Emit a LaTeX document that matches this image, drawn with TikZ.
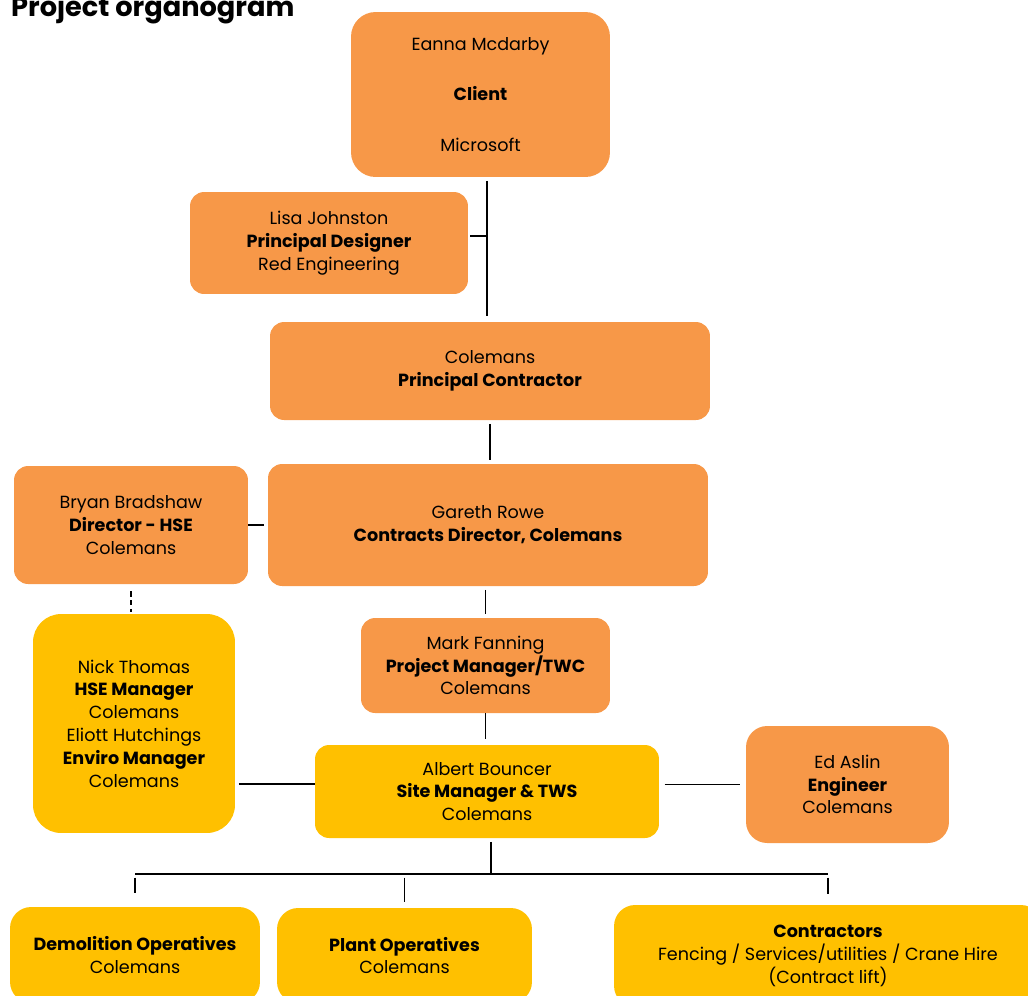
\documentclass[tikz,border=0pt]{standalone}
\usepackage{fontspec}
\setmainfont{Poppins}
\usetikzlibrary{positioning}
\definecolor{orangebox}{RGB}{247,152,72}
\definecolor{yellowbox}{RGB}{255,192,0}
\tikzset{
  role/.style={rectangle,rounded corners=#1,fill=orangebox,align=center,
               font=\fontsize{10}{13}\selectfont,inner sep=2pt},
  role/.default=8pt,
  site/.style={role=#1,fill=yellowbox},
  site/.default=8pt,
  link/.style={line width=0.9pt,black},
  bus/.style={line width=1.5pt,black},
}

\begin{document}
\begin{tikzpicture}[x=0.02cm,y=-0.02cm]
    \useasboundingbox (0,0) rectangle (1028,995);

    \node[anchor=base west,font=\fontsize{15.5}{18}\selectfont\bfseries] (title) at (5,16) {Project organogram};

    \node[role=14pt,minimum width=5.18cm,minimum height=3.3cm] (client) at (480.5,94.5)
      {Eanna Mcdarby\\[0.56cm]\textbf{Client}\\[0.56cm]Microsoft};
    \node[role,minimum width=5.56cm,minimum height=2.04cm] (lisa) at (329,243)
      {Lisa Johnston\\\textbf{Principal Designer}\\Red Engineering};
    \node[role,minimum width=8.8cm,minimum height=1.96cm] (pc) at (490,371)
      {Colemans\\\textbf{Principal Contractor}};
    \node[role,minimum width=4.68cm,minimum height=2.36cm] (bryan) at (131,525)
      {Bryan Bradshaw\\\textbf{Director - HSE}\\Colemans};
    \node[role,minimum width=8.8cm,minimum height=2.44cm] (gareth) at (488,525)
      {Gareth Rowe\\\textbf{Contracts Director, Colemans}};
    \node[site=16pt,minimum width=4.04cm,minimum height=4.38cm] (nick) at (134,723.5)
      {Nick Thomas\\\textbf{HSE Manager}\\Colemans\\Eliott Hutchings\\\textbf{Enviro Manager}\\Colemans};
    \node[role,minimum width=4.98cm,minimum height=1.9cm] (mark) at (485.5,665.5)
      {Mark Fanning\\\textbf{Project Manager/TWC}\\Colemans};
    \node[site,minimum width=6.88cm,minimum height=1.86cm] (albert) at (487,791.5)
      {Albert Bouncer\\\textbf{Site Manager \& TWS}\\Colemans};
    \node[role=12pt,minimum width=4.06cm,minimum height=2.34cm] (ed) at (847.5,784.5)
      {Ed Aslin\\\textbf{Engineer}\\Colemans};
    \node[site=12pt,minimum width=5.0cm,minimum height=1.92cm] (demo) at (135,955)
      {\textbf{Demolition Operatives}\\Colemans};
    \node[site=12pt,minimum width=5.1cm,minimum height=1.9cm] (plant) at (404.5,955.5)
      {\textbf{Plant Operatives}\\Colemans};
    \node[site=12pt,minimum width=8.56cm,minimum height=2.04cm] (contr) at (828,956)
      {\textbf{Contractors}\\Fencing / Services/utilities / Crane Hire\\(Contract lift)};

    % reporting lines
    \coordinate (spine) at (487,0);
    \coordinate (split) at (491,874);
    \draw[link,shorten <=2pt,shorten >=3pt] (client.south -| spine) -- (pc.north -| spine);
    \draw[link,shorten <=1pt] ([yshift=0.14cm]lisa.east) -- ([yshift=0.14cm]lisa.east -| spine);
    \draw[link,shorten <=2pt,shorten >=2pt] (pc.south) -- (pc.south |- gareth.north);
    \draw[link,shorten >=2pt] (bryan.east) -- (gareth.west);
    \draw[link,shorten <=2pt,shorten >=2pt] (mark.north |- gareth.south) -- (mark.north);
    \draw[link,dashed,dash pattern=on 3pt off 2pt,shorten <=4pt,shorten >=1pt] (bryan.south) -- (bryan.south |- nick.north);
    \draw[link,shorten >=3pt] (mark.south) -- (mark.south |- albert.north);
    \draw[link,shorten <=2pt] ([yshift=0.15cm]nick.east |- albert.west) -- ([yshift=0.15cm]albert.west);
    \draw[link,shorten <=3pt,shorten >=3pt] (albert.east |- ed.west) -- (ed.west);

    % site teams
    \draw[link,shorten <=2pt] (albert.south -| split) -- (split);
    \draw[bus] (demo.north |- split) -- (contr.north |- split);
    \foreach \t/\g in {demo/8pt,plant/3pt,contr/6pt}
      \draw[link,shorten <=2pt,shorten >=\g] (\t.north |- split) -- (\t.north);

\end{tikzpicture}
\end{document}
